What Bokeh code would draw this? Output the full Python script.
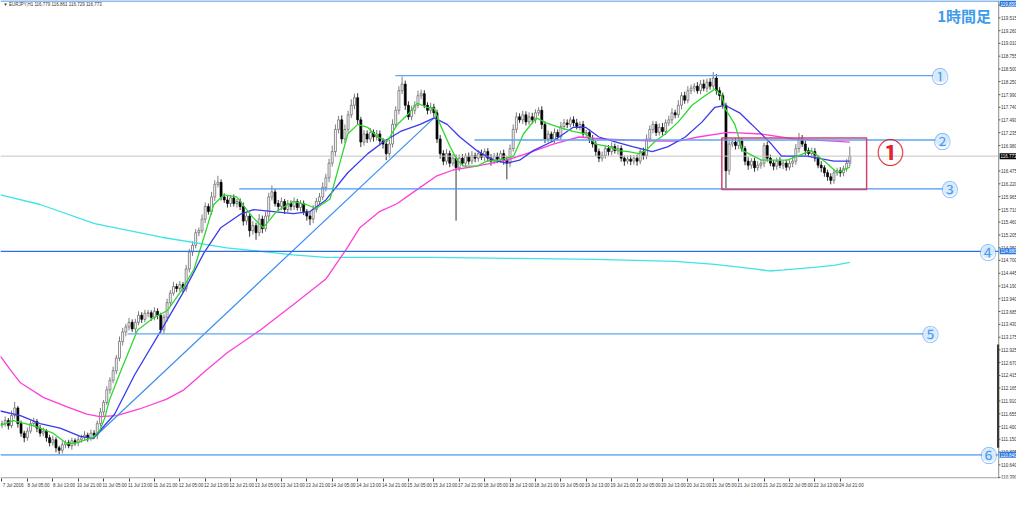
from bokeh.plotting import figure
from bokeh.models import Range1d, FixedTicker, ColumnDataSource
from bokeh.core.properties import value
from bokeh.embed import file_html
from bokeh.resources import INLINE

# ---------------- data (EURJPY H1) ----------------
first_open = 111.44
close = [
    111.46, 111.52, 111.42, 111.62, 111.77, 111.46, 111.27, 111.18, 111.31, 111.46,
    111.50, 111.37, 111.27, 111.31, 111.18, 111.08, 111.14, 110.98, 110.93, 111.04,
    111.08, 111.02, 111.12, 111.08, 111.14, 111.18, 111.23, 111.18, 111.27, 111.23,
    111.46, 111.69, 111.88, 112.13, 112.32, 112.51, 112.76, 113.09, 113.28, 113.38,
    113.47, 113.34, 113.47, 113.61, 113.53, 113.65, 113.66, 113.57, 113.69, 113.61,
    113.32, 113.57, 113.86, 114.05, 114.18, 114.14, 114.22, 114.14, 114.53, 114.87,
    115.00, 115.25, 115.29, 115.52, 115.77, 115.67, 115.96, 116.21, 116.25, 115.96,
    115.90, 115.83, 115.94, 115.83, 115.87, 115.77, 115.48, 115.58, 115.29, 115.39,
    115.25, 115.52, 115.33, 115.58, 115.96, 116.06, 115.83, 115.77, 115.87, 115.71,
    115.83, 115.77, 115.87, 115.75, 115.83, 115.67, 115.58, 115.52, 115.71, 115.87,
    115.96, 116.15, 116.34, 116.63, 116.86, 117.30, 117.49, 117.11, 117.30, 117.59,
    117.78, 117.93, 117.49, 117.05, 117.21, 117.11, 117.24, 117.15, 117.21, 117.07,
    117.01, 116.82, 117.01, 117.40, 117.68, 118.07, 118.20, 117.78, 117.55, 117.68,
    117.78, 117.97, 118.01, 117.78, 117.68, 117.74, 117.63, 117.11, 116.82, 116.67,
    116.82, 116.63, 116.73, 116.54, 116.73, 116.63, 116.77, 116.67, 116.78, 116.73,
    116.82, 116.75, 116.86, 116.73, 116.67, 116.77, 116.71, 116.82, 116.69, 116.63,
    116.92, 117.30, 117.55, 117.49, 117.59, 117.45, 117.55, 117.49, 117.63, 117.68,
    117.40, 117.11, 117.21, 117.11, 117.24, 117.15, 117.36, 117.43, 117.40, 117.49,
    117.43, 117.36, 117.40, 117.21, 117.24, 117.11, 117.01, 116.86, 116.73, 116.78,
    116.92, 116.86, 116.96, 116.88, 116.92, 116.73, 116.67, 116.71, 116.67, 116.73,
    116.67, 116.86, 116.78, 117.11, 117.30, 117.40, 117.24, 117.34, 117.26, 117.43,
    117.49, 117.63, 117.59, 117.78, 117.97, 117.88, 118.07, 118.12, 118.16, 118.07,
    118.20, 118.12, 118.24, 118.16, 118.32, 118.07, 117.97, 117.78, 116.48, 117.01,
    117.05, 116.98, 117.07, 116.92, 116.67, 116.59, 116.67, 116.54, 116.59, 116.63,
    116.98, 116.73, 116.63, 116.57, 116.67, 116.59, 116.63, 116.55, 116.63, 116.67,
    116.92, 117.11, 117.01, 116.88, 116.82, 116.86, 116.73, 116.59, 116.54, 116.44,
    116.36, 116.29, 116.44, 116.48, 116.44, 116.52, 116.63, 116.77,
]
# upper / lower wick lengths in 0.01 yen
up_wick = [
    6, 8, 5, 10, 12, 4, 6, 5, 7, 6,
    8, 5, 6, 7, 4, 6, 8, 5, 4, 7,
    5, 6, 6, 5, 7, 6, 8, 5, 7, 6,
    6, 8, 5, 7, 6, 8, 6, 10, 8, 6,
    9, 6, 7, 8, 6, 7, 6, 5, 8, 6,
    5, 6, 8, 6, 9, 6, 7, 5, 8, 6,
    8, 7, 6, 9, 8, 6, 10, 8, 13, 6,
    7, 8, 6, 7, 5, 6, 8, 7, 6, 9,
    6, 10, 7, 9, 8, 13, 6, 7, 8, 5,
    7, 6, 8, 5, 7, 6, 5, 8, 9, 7,
    8, 10, 8, 9, 12, 10, 8, 9, 10, 8,
    12, 8, 9, 6, 8, 7, 9, 6, 8, 7,
    6, 8, 9, 10, 8, 9, 15, 7, 8, 9,
    8, 10, 8, 7, 6, 9, 7, 6, 8, 7,
    9, 6, 8, 7, 7, 8, 6, 7, 9, 6,
    7, 8, 6, 7, 8, 6, 7, 6, 8, 7,
    8, 10, 9, 7, 8, 7, 9, 8, 7, 6,
    8, 6, 7, 5, 8, 6, 9, 8, 7, 6,
    7, 8, 6, 7, 5, 6, 8, 7, 6, 8,
    6, 7, 8, 6, 7, 6, 5, 7, 8, 6,
    7, 6, 8, 9, 8, 7, 6, 8, 9, 7,
    8, 9, 6, 10, 7, 8, 9, 7, 6, 8,
    8, 9, 7, 8, 12, 8, 7, 6, 5, 8,
    7, 8, 7, 6, 5, 8, 6, 7, 8, 6,
    6, 8, 7, 6, 7, 8, 6, 7, 6, 8,
    9, 12, 8, 7, 6, 8, 7, 6, 8, 5,
    6, 7, 8, 6, 7, 6, 8, 19,
]
down_wick = [
    7, 6, 8, 5, 6, 8, 7, 9, 6, 5,
    6, 8, 7, 6, 8, 7, 6, 9, 8, 6,
    7, 5, 8, 6, 7, 6, 5, 8, 6, 7,
    8, 6, 7, 5, 8, 6, 7, 6, 8, 9,
    7, 6, 8, 6, 7, 6, 8, 7, 6, 8,
    6, 7, 8, 6, 5, 7, 6, 8, 6, 7,
    8, 6, 7, 5, 8, 6, 7, 8, 6, 7,
    6, 8, 7, 6, 8, 7, 9, 8, 12, 8,
    14, 7, 9, 6, 8, 7, 6, 8, 7, 9,
    6, 8, 7, 6, 8, 7, 9, 12, 8, 6,
    7, 6, 8, 9, 7, 10, 8, 9, 8, 7,
    6, 8, 9, 10, 7, 8, 6, 9, 7, 8,
    9, 13, 8, 7, 6, 8, 7, 9, 6, 7,
    8, 6, 7, 6, 8, 7, 9, 8, 10, 8,
    7, 8, 6, 105, 7, 6, 8, 7, 6, 8,
    7, 6, 8, 7, 9, 6, 8, 7, 9, 32,
    8, 6, 7, 6, 8, 7, 6, 8, 7, 6,
    9, 8, 7, 6, 8, 7, 6, 8, 7, 6,
    7, 6, 8, 7, 6, 8, 7, 9, 8, 7,
    6, 8, 7, 6, 8, 7, 9, 6, 8, 7,
    9, 6, 8, 7, 6, 8, 7, 6, 8, 7,
    6, 8, 7, 6, 8, 7, 6, 7, 8, 6,
    7, 6, 8, 7, 6, 8, 9, 7, 35, 8,
    6, 8, 7, 6, 8, 9, 7, 8, 6, 7,
    8, 7, 6, 8, 7, 6, 8, 7, 6, 8,
    7, 8, 6, 9, 7, 8, 7, 6, 9, 8,
    8, 8, 7, 6, 8, 7, 6, 7,
]

# moving averages (bar index, price)
green_x = [-0.5, 3.6, 9.8, 16.1, 20.5, 23.6, 28.6, 30.8, 32.3, 33.9, 37.7, 42.7, 48.0, 52.0, 56.4, 60.5,
           63.6, 66.7, 69.8, 73.9, 79.2, 82.3, 86.4, 91.7, 95.8, 98.9, 103.3, 106.4, 108.9, 112.0, 115.2,
           118.3, 121.4, 124.5, 127.7, 130.8, 133.9, 136.1, 138.0, 141.1, 143.3, 145.5, 149.5, 152.7,
           156.7, 161.1, 164.2, 168.3, 171.4, 175.5, 179.8, 183.9, 187.0, 191.1, 194.2, 197.3, 200.5,
           202.7, 205.8, 208.9, 213.0, 217.3, 221.4, 224.5, 226.7, 227.7, 230.8, 233.3, 239.2, 247.3,
           254.8, 259.8, 263.0, 267.0]
green_y = [111.42, 111.52, 111.42, 111.27, 111.06, 111.08, 111.18, 111.33, 111.56, 111.94, 112.55, 113.32,
           113.57, 113.70, 114.09, 114.53, 115.16, 115.81, 116.00, 115.96, 115.54, 115.35, 115.67, 115.87,
           115.81, 115.73, 115.92, 116.63, 117.21, 117.40, 117.34, 117.15, 117.07, 117.40, 117.59, 117.82,
           117.74, 117.72, 117.40, 116.96, 116.69, 116.57, 116.57, 116.67, 116.69, 116.77, 117.21, 117.53,
           117.43, 117.34, 117.26, 117.21, 117.01, 116.96, 116.88, 116.86, 116.82, 116.88, 117.07, 117.21,
           117.45, 117.78, 117.97, 118.10, 117.97, 117.72, 117.40, 116.88, 116.69, 116.69, 116.88, 116.63,
           116.44, 116.55]
blue_x = [-0.5, 5.8, 12.0, 18.3, 24.5, 28.6, 35.5, 41.7, 50.2, 57.3, 63.6, 68.9, 75.2, 79.2, 85.5, 91.7,
          97.0, 102.0, 108.9, 115.2, 120.5, 125.5, 131.7, 136.1, 140.2, 144.2, 149.5, 154.8, 158.9, 163.0,
          167.3, 173.6, 179.8, 183.9, 188.0, 192.3, 198.6, 204.8, 209.8, 215.2, 220.5, 224.5, 227.7, 232.3,
          236.1, 242.3, 245.5, 253.6, 262.0, 267.0]
blue_y = [111.71, 111.62, 111.46, 111.37, 111.21, 111.16, 111.65, 112.42, 113.32, 114.09, 114.85, 115.35,
          115.62, 115.71, 115.67, 115.63, 115.67, 115.90, 116.44, 116.82, 117.07, 117.26, 117.40, 117.53,
          117.40, 117.15, 116.88, 116.69, 116.63, 116.69, 116.88, 117.07, 117.34, 117.34, 117.15, 117.07,
          116.96, 116.86, 116.96, 117.15, 117.45, 117.74, 117.78, 117.63, 117.40, 117.01, 116.77, 116.77,
          116.67, 116.67]
mag_x = [-0.5, 2.7, 5.8, 13.0, 20.5, 26.7, 30.8, 36.1, 43.3, 51.7, 57.3, 63.6, 70.8, 81.4, 91.7, 102.0,
         108.3, 112.7, 118.9, 124.5, 130.8, 137.0, 142.3, 149.5, 158.9, 165.2, 173.6, 181.7, 189.2, 196.4,
         206.7, 213.0, 219.2, 228.6, 239.2, 249.5, 262.0, 267.0]
mag_y = [112.80, 112.52, 112.27, 111.98, 111.79, 111.65, 111.60, 111.62, 111.75, 111.94, 112.13, 112.48,
         112.86, 113.32, 113.82, 114.33, 114.91, 115.35, 115.67, 115.83, 116.11, 116.38, 116.50, 116.57,
         116.69, 116.82, 117.01, 117.15, 117.11, 117.09, 117.07, 117.07, 117.15, 117.24, 117.21, 117.11,
         117.07, 117.05]
cyan_x = [-0.5, 12.0, 29.2, 50.2, 70.8, 91.7, 102.0, 135.5, 162.0, 187.0, 212.0, 224.5, 237.0, 241.7,
          246.4, 255.8, 262.0, 267.0]
cyan_y = [116.00, 115.81, 115.43, 115.16, 114.95, 114.81, 114.76, 114.76, 114.74, 114.72, 114.68, 114.62,
          114.53, 114.49, 114.51, 114.56, 114.60, 114.66]

trend_x = [28.6, 136.1]
trend_y = [111.16, 117.53]

# horizontal levels and their circled marks
level_price = [118.37, 117.09, 116.12, 114.88, 113.24, 110.84]
level_start = [123.9, 148.8, 74.7, -0.5, 39.5, -0.5]
level_end = [295.4, 296.1, 298.5, 313.9, 292.3, 313.9]
mark_x = [295.4, 296.1, 298.5, 310.5, 292.3, 310.8]
mark_text = ["①", "②", "③", "④", "⑤", "⑥"]

box_left, box_right, box_top, box_bottom = 226.7, 272.3, 117.13, 116.11
bid_price = 116.77
top_line_price = 119.85

xlabels = ["7 Jul 2016", "8 Jul 05:00", "8 Jul 13:00", "10 Jul 21:00", "11 Jul 05:00", "11 Jul 13:00",
           "11 Jul 21:00", "12 Jul 05:00", "12 Jul 13:00", "12 Jul 21:00", "13 Jul 05:00", "13 Jul 13:00",
           "13 Jul 21:00", "14 Jul 05:00", "14 Jul 13:00", "14 Jul 21:00", "15 Jul 05:00", "15 Jul 13:00",
           "17 Jul 21:00", "18 Jul 05:00", "18 Jul 13:00", "18 Jul 21:00", "19 Jul 05:00", "19 Jul 13:00",
           "19 Jul 21:00", "20 Jul 05:00", "20 Jul 13:00", "20 Jul 21:00", "21 Jul 05:00", "21 Jul 13:00",
           "21 Jul 21:00", "22 Jul 05:00", "22 Jul 13:00", "24 Jul 21:00"]
yticks = [119.770, 119.515, 119.260, 119.010, 118.755, 118.500, 118.250, 117.990, 117.740, 117.490,
          117.235, 116.980, 116.475, 116.220, 115.965, 115.710, 115.460, 115.205, 114.950, 114.700,
          114.445, 114.190, 113.940, 113.685, 113.430, 113.175, 112.925, 112.670, 112.415, 112.165,
          111.910, 111.655, 111.400, 111.150, 110.895, 110.640, 110.390]
# highlighted price tags on the price scale: price, text, colour
tag_price = [119.80, 116.77, 114.88, 110.84]
tag_text = ["119.850", "116.773", "114.880", "110.840"]
tag_color = ["#2a78e4", "#000000", "#2a78e4", "#2a78e4"]

# ---------------- build ----------------
opens = [first_open] + close[:-1]
highs = [max(o, c) + u / 100 for o, c, u in zip(opens, close, up_wick)]
lows = [min(o, c) - d / 100 for o, c, d in zip(opens, close, down_wick)]
idx = list(range(len(close)))


def candle_source(want_bull):
    d = dict(x=[], top=[], bottom=[], h=[], l=[])
    for i, o, c, h, l in zip(idx, opens, close, highs, lows):
        if (c >= o) == want_bull:
            d["x"].append(i)
            d["top"].append(max(o, c))
            d["bottom"].append(min(o, c))
            d["h"].append(h)
            d["l"].append(l)
    return ColumnDataSource(d)


X0 = -0.47      # left edge of the chart
X_AX = 313.9    # position of the price scale line
X_END = 319.5   # right edge of the page (price-scale labels live between X_AX and X_END)
Y0, Y1 = 110.37, 119.86

p = figure(width=1016, height=490, x_range=Range1d(X0, X_END), y_range=Range1d(Y0, Y1),
           output_backend="svg", toolbar_location=None, x_axis_location="below", y_axis_location=None,
           min_border_left=0, min_border_top=0, min_border_right=0, min_border_bottom=0,
           background_fill_color="white", border_fill_color="white", outline_line_color=None)
p.grid.visible = False

xa = p.xaxis[0]
xa.ticker = FixedTicker(ticks=[8 * k + 3.5 for k in range(len(xlabels))],
                        minor_ticks=[8 * k for k in range(len(xlabels))])
xa.major_label_overrides = {8 * k + 3.5: lab for k, lab in enumerate(xlabels)}
xa.major_tick_line_color = None
xa.major_tick_out = 1
xa.major_tick_in = 0
xa.minor_tick_out = 3
xa.minor_tick_in = 0
xa.minor_tick_line_color = "#444444"
xa.axis_line_color = None
xa.major_label_text_font_size = "4.5px"
xa.major_label_text_font = "Liberation Sans"
xa.major_label_text_color = "#333333"
xa.major_label_standoff = 1

# candles
bull_src = candle_source(True)
bear_src = candle_source(False)
p.segment(x0="x", x1="x", y0="l", y1="h", source=bull_src, line_color="#5e5e5e", line_width=0.8)
p.vbar(x="x", top="top", bottom="bottom", width=0.62, source=bull_src,
       fill_color="white", line_color="#5e5e5e", line_width=0.7)
p.segment(x0="x", x1="x", y0="l", y1="h", source=bear_src, line_color="black", line_width=0.8)
p.vbar(x="x", top="top", bottom="bottom", width=0.62, source=bear_src,
       fill_color="black", line_color="black", line_width=0.7)

# bid line and top line
p.segment(x0=[X0, X0], x1=[X_AX, X_AX], y0=[bid_price, top_line_price], y1=[bid_price, top_line_price],
          line_color=["#c4c4c4", "#8fbbea"], line_width=[1, 2])

# moving averages and trend line
p.line(cyan_x, cyan_y, line_color="#3fe3ea", line_width=1.3)
p.line(mag_x, mag_y, line_color="#ff3fd8", line_width=1.3)
p.line(trend_x, trend_y, line_color="#3b8ff0", line_width=1.2)
p.line(blue_x, blue_y, line_color="#3a3aee", line_width=1.3)
p.line(green_x, green_y, line_color="#2fd82f", line_width=1.3)

# horizontal levels
level_colors = ["#5aa6f2", "#5aa6f2", "#4a98f0", "#2c6fe0", "#5aa6f2", "#7db6f0"]
level_widths = [1.3, 1.3, 1.3, 1.3, 1.3, 1.8]
p.segment(x0=level_start, x1=level_end, y0=level_price, y1=level_price,
          line_color=level_colors, line_width=level_widths)

p.quad(left=[box_left], right=[box_right], top=[box_top], bottom=[box_bottom],
       fill_color=None, line_color="#d2436f", line_width=1.5)

# price scale: frame lines, ticks, labels
p.segment(x0=[X_AX, X0], x1=[X_AX, X_AX], y0=[Y0, Y0 + 0.012], y1=[Y1, Y0 + 0.012],
          line_color="#8a8a8a", line_width=1)
p.segment(x0=[X_AX - 0.2], x1=[X_AX - 0.2], y0=[113.03], y1=[110.98], line_color="#3a3a3a", line_width=2.2)
p.segment(x0=[X_AX] * len(yticks), x1=[X_AX + 0.55] * len(yticks), y0=yticks, y1=yticks,
          line_color="#555555", line_width=1)
p.text([X_AX + 0.75] * len(yticks), yticks, text=[f"{v:.3f}" for v in yticks],
       text_font=value("Liberation Sans"), text_font_size="4.5px", text_color="#333333",
       text_align="left", text_baseline="middle")

p.rect(x=[(X_AX + X_END) / 2 + 0.15] * len(tag_price), y=tag_price, width=X_END - X_AX - 0.3, height=6,
       height_units="screen", fill_color=tag_color, line_color=None)
p.text([X_AX + 0.6] * len(tag_price), tag_price, text=tag_text,
       text_font=value("Liberation Sans"), text_font_size="4.5px", text_color="#ffffff",
       text_align="left", text_baseline="middle")

# circled marks
p.scatter(mark_x, level_price, size=14, fill_color="#d8ebfd", line_color=None)
p.text(mark_x, level_price, text=mark_text, text_font=value("Noto Sans CJK JP"),
       text_font_size="17px", text_color="#4a9af0", text_align="center", text_baseline="middle")

p.text([279.8], [116.86], text=["①"], text_font=value("Noto Sans CJK JP"), text_font_size="27px",
       text_font_style="bold", text_color="#e0242a", text_align="center", text_baseline="middle")

p.text([303.0], [119.56], text=["1時間足"], text_font=value("Noto Sans CJK JP"), text_font_size="15px",
       text_font_style="bold", text_color="#3d9be9", text_align="center", text_baseline="middle")

p.text([0.4], [119.79], text=["▼ EURJPY,H1  116.779 116.861 116.729 116.773"],
       text_font=value("Liberation Sans"), text_font_size="4.5px", text_color="#333333",
       text_align="left", text_baseline="middle")

open("out.html", "w").write(file_html(p, INLINE))
